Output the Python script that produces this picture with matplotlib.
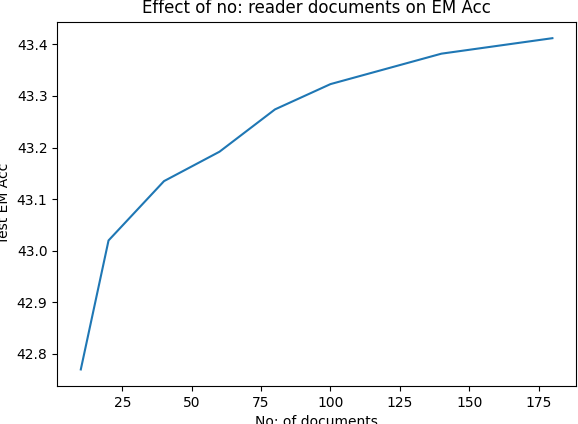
import matplotlib
matplotlib.use("Agg")
import matplotlib.pyplot as plt

# number of reader documents vs test EM accuracy
num_docs = [10, 20, 40, 60, 80, 100, 140, 180]
em_acc = [42.77, 43.02, 43.135, 43.192, 43.274, 43.323, 43.382, 43.412]

fig = plt.figure(figsize=(5.78, 4.24), dpi=100)
ax = fig.add_axes([0.099, 0.0896, 0.8975, 0.8594])

ax.plot(num_docs, em_acc)

ax.set_title("Effect of no: reader documents on EM Acc")
ax.set_xlabel("No: of documents")
ax.set_ylabel("Test EM Acc")

fig.savefig("out.png", dpi=100)
